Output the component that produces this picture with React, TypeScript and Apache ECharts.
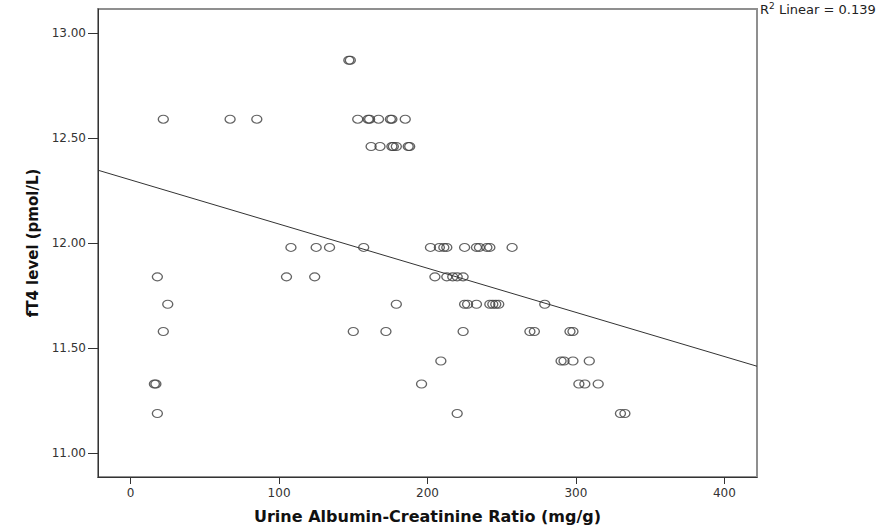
import React, { useEffect, useRef } from "react";
import * as echarts from "echarts";

// Urine Albumin-Creatinine Ratio (mg/g) values, grouped by fT4 level (pmol/L)
const fT4Levels = [12.87, 12.59, 12.46, 11.98, 11.84, 11.71, 11.58, 11.44, 11.33, 11.19];
const uacrAt1287 = [147, 148];
const uacrAt1259 = [22, 67, 85, 153, 160, 161, 167, 175, 176, 185];
const uacrAt1246 = [162, 168, 176, 177, 179, 187, 188];
const uacrAt1198 = [108, 125, 134, 157, 202, 208, 211, 213, 225, 233, 235, 240, 242, 257];
const uacrAt1184 = [18, 105, 124, 205, 213, 217, 220, 224];
const uacrAt1171 = [25, 179, 225, 227, 233, 242, 244, 246, 248, 279];
const uacrAt1158 = [22, 150, 172, 224, 269, 272, 296, 298];
const uacrAt1144 = [209, 290, 292, 298, 309];
const uacrAt1133 = [16, 17, 196, 302, 306, 315];
const uacrAt1119 = [18, 220, 330, 333];
const uacrGroups = [
  uacrAt1287, uacrAt1259, uacrAt1246, uacrAt1198, uacrAt1184,
  uacrAt1171, uacrAt1158, uacrAt1144, uacrAt1133, uacrAt1119,
];

// Fit line
const fitIntercept = 12.301;
const fitSlope = -0.0021;
const r2Text = "0.139";

const xTicks = [0, 100, 200, 300, 400];
const yTicks = [11.0, 11.5, 12.0, 12.5, 13.0];
const xMin = -22;
const xMax = 422;
const yMin = 10.888;
const yMax = 13.114;

const FONT = "'DejaVu Sans', 'Liberation Sans', Arial, sans-serif";

export default function App() {
  const ref = useRef<HTMLDivElement>(null);

  useEffect(() => {
    if (!ref.current) return;
    const chart = echarts.init(ref.current, null, { renderer: "svg" });

    const points: number[][] = [];
    uacrGroups.forEach((g, i) => {
      g.forEach((x) => points.push([x, fT4Levels[i]]));
    });

    const fitLine = [
      [xMin, fitIntercept + fitSlope * xMin],
      [xMax, fitIntercept + fitSlope * xMax],
    ];

    chart.setOption({
      animation: false,
      backgroundColor: "#ffffff",
      grid: {
        left: 98,
        right: 123,
        top: 9,
        bottom: 52,
        show: true,
        borderColor: "#8f8f8f",
        borderWidth: 2,
        backgroundColor: "transparent",
      },
      xAxis: {
        type: "value",
        min: xMin,
        max: xMax,
        name: "Urine Albumin-Creatinine Ratio (mg/g)",
        nameLocation: "middle",
        nameGap: 31,
        nameTextStyle: { fontFamily: FONT, fontWeight: "bold", fontSize: 16, color: "#111" },
        splitLine: { show: false },
        axisLine: { show: true, onZero: false, lineStyle: { color: "#333", width: 1 } },
        axisTick: { show: true, inside: false, length: 7, customValues: xTicks, lineStyle: { color: "#333" } },
        axisLabel: {
          customValues: xTicks,
          margin: 10,
          fontFamily: FONT,
          fontSize: 12,
          color: "#333",
        },
      },
      yAxis: {
        type: "value",
        min: yMin,
        max: yMax,
        name: "fT4 level (pmol/L)",
        nameLocation: "middle",
        nameGap: 56,
        nameRotate: 90,
        nameTextStyle: { fontFamily: FONT, fontWeight: "bold", fontSize: 15, color: "#111" },
        splitLine: { show: false },
        axisLine: { show: true, onZero: false, lineStyle: { color: "#333", width: 1 } },
        axisTick: { show: true, inside: false, length: 10, customValues: yTicks, lineStyle: { color: "#333" } },
        axisLabel: {
          customValues: yTicks,
          margin: 12,
          fontFamily: FONT,
          fontSize: 12,
          color: "#333",
          formatter: (v: number) => v.toFixed(2),
        },
      },
      series: [
        {
          type: "line",
          data: fitLine,
          showSymbol: false,
          symbol: "none",
          lineStyle: { color: "#333", width: 1 },
          silent: true,
          z: 2,
        },
        {
          type: "scatter",
          data: points,
          symbol: "path://M0,50 A50,50 0 1,1 100,50 A50,50 0 1,1 0,50 Z",
          symbolSize: [10, 8],
          itemStyle: { color: "transparent", borderColor: "#3c3c3c", borderWidth: 1.2 },
          z: 3,
        },
      ],
      graphic: [
        {
          type: "group",
          left: 760,
          top: 1,
          children: [
            { type: "text", x: 0, y: 2, style: { text: "R", fontFamily: FONT, fontSize: 13, fill: "#222" } },
            { type: "text", x: 9, y: 0, style: { text: "2", fontFamily: FONT, fontSize: 9, fill: "#222" } },
            { type: "text", x: 19, y: 2, style: { text: "Linear = " + r2Text, fontFamily: FONT, fontSize: 13, fill: "#222" } },
          ],
        },
      ],
    });

    return () => chart.dispose();
  }, []);

  return (
    <div
      ref={ref}
      style={{ position: "fixed", left: 0, top: 0, width: 880, height: 529 }}
    />
  );
}
